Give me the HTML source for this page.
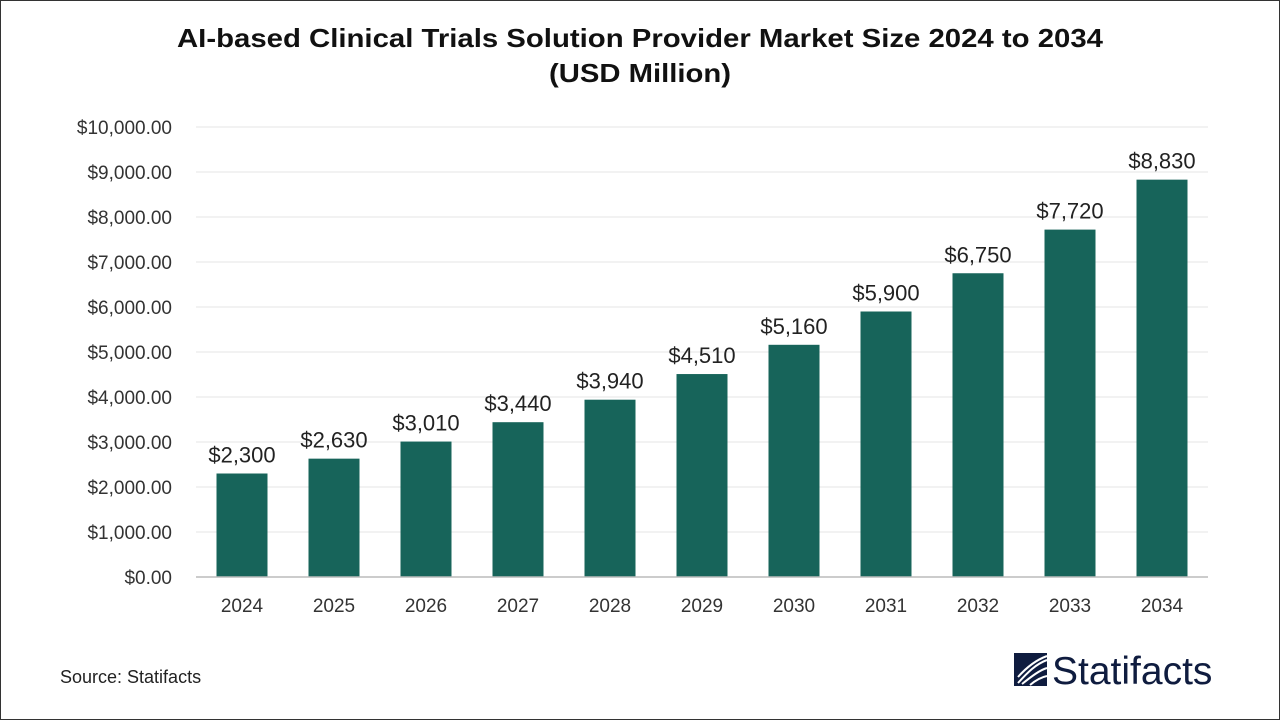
<!DOCTYPE html>
<html><head><meta charset="utf-8"><style>
body{margin:0;width:1280px;height:720px;background:#fff;font-family:"Liberation Sans",sans-serif;overflow:hidden}
#frame{position:absolute;left:0;top:0;width:1278px;height:718px;border:1px solid #333}
</style></head><body>
<div id="frame"></div>
<svg id="c" width="1280" height="720" style="position:absolute;left:0;top:0">
<text x="177" y="47" textLength="926" lengthAdjust="spacingAndGlyphs" font-size="26" font-weight="bold" fill="#111">AI-based Clinical Trials Solution Provider Market Size 2024 to 2034</text>
<text x="549" y="82" textLength="182" lengthAdjust="spacingAndGlyphs" font-size="26" font-weight="bold" fill="#111">(USD Million)</text>
<text x="60" y="683" font-size="18" fill="#222">Source: Statifacts</text>
<g>
<rect x="1014" y="653" width="33" height="33" fill="#0f1c3f"/>
<path d="M1018 683 C1028 672 1036 664 1047 660 M1018 677 C1026 668 1036 660 1047 656 M1022 684 C1032 676 1040 670 1047 668 M1030 685 C1036 680 1042 677 1047 676" stroke="#fff" stroke-width="2" fill="none"/>
<text x="1052" y="684" font-size="39" fill="#0f1c3f">Statifacts</text>
</g>
<g id="plot"></g>
</svg>
<script>
const categories=["2024","2025","2026","2027","2028","2029","2030","2031","2032","2033","2034"];
const values=[2300,2630,3010,3440,3940,4510,5160,5900,6750,7720,8830];
const valueLabels=["$2,300","$2,630","$3,010","$3,440","$3,940","$4,510","$5,160","$5,900","$6,750","$7,720","$8,830"];
const ticks=[0,1000,2000,3000,4000,5000,6000,7000,8000,9000,10000];
const tickLabels=["$0.00","$1,000.00","$2,000.00","$3,000.00","$4,000.00","$5,000.00","$6,000.00","$7,000.00","$8,000.00","$9,000.00","$10,000.00"];
const L=196,R=1208,T=127,B=577,ymax=10000;
const y=v=>B-(v/ymax)*(B-T);
const bw=(R-L)/categories.length;
const x=i=>L+bw*(i+0.5);
const g=document.getElementById('plot');
const NS="http://www.w3.org/2000/svg";
function mk(t,a){const e=document.createElementNS(NS,t);for(const k in a)e.setAttribute(k,a[k]);g.appendChild(e);return e;}
ticks.forEach((t,i)=>{
 if(t>0){const l=mk('line',{x1:L,x2:R,y1:y(t),y2:y(t),stroke:'#e6e6e6','stroke-width':1});
 
 }
 const tx=mk('text',{x:172,y:y(t)+7,'text-anchor':'end','font-size':19,fill:'#333'});
 tx.textContent=tickLabels[i];
 
 
});
values.forEach((v,i)=>{
 const r=mk('rect',{x:x(i)-25.5,y:y(v),width:51,height:B-y(v),fill:'#17645a'});
 
 
 const lb=mk('text',{x:x(i),y:y(v)-11,'text-anchor':'middle','font-size':22,fill:'#222'});
 lb.textContent=valueLabels[i];
 
 
 const cx=mk('text',{x:x(i),y:612,'text-anchor':'middle','font-size':19,fill:'#333'});
 cx.textContent=categories[i];
 
 
});
const ax=mk('line',{x1:L,x2:R,y1:B,y2:B,stroke:'#bbb','stroke-width':1.5});


</script>
</body></html>
